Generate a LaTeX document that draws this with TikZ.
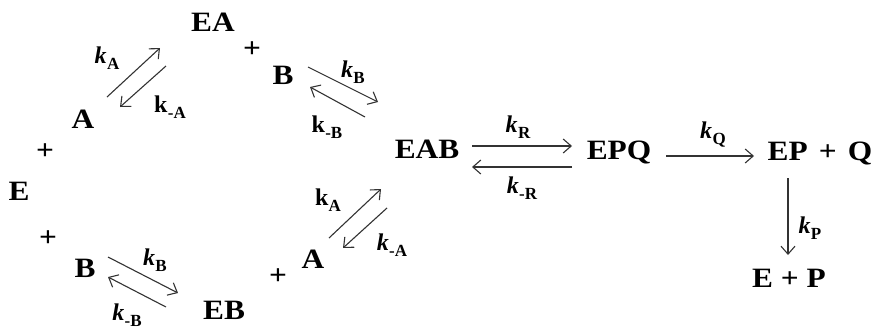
\documentclass[tikz,border=0pt]{standalone}
\usepackage{fontspec}
\setmainfont{Liberation Serif}
\usetikzlibrary{arrows.meta}
\newcommand\ki[1]{\textbf{\textit{k}}\kern0.3pt\raisebox{-0.25em}{\fontsize{17}{17}\selectfont\bfseries #1}}
\newcommand\ku[1]{\textbf{k}\kern0.3pt\raisebox{-0.25em}{\fontsize{17}{17}\selectfont\bfseries #1}}
\newcommand\wide[1]{\scalebox{1.12}[1]{#1}}
\begin{document}
\begin{tikzpicture}[x=1pt,y=-1pt,
  sp/.style={font=\fontsize{28}{30}\selectfont\bfseries, inner sep=0pt, anchor=base},
  lb/.style={font=\fontsize{24}{25}\selectfont, inner sep=0pt, anchor=center},
  rx/.style={draw=black!80, line width=1.1pt, -{Straight Barb[length=8pt,width=14pt]}}]
\useasboundingbox (0,0) rectangle (876,327);
% species
\node[sp] (EA) at (213,31) {\wide{EA}};
\node[sp] (p1) at (252,57) {\wide{+}};
\node[sp] (B1) at (283,84) {\wide{B}};
\node[sp] (A1) at (83,128) {\wide{A}};
\node[sp] (p2) at (45,159) {\wide{+}};
\node[sp] (E) at (19,200) {\wide{E}};
\node[sp] (p3) at (48,246) {\wide{+}};
\node[sp] (B2) at (85,277) {\wide{B}};
\node[sp] (EB) at (224,319) {\wide{EB}};
\node[sp] (p4) at (278,284) {\wide{+}};
\node[sp] (A3) at (313,268) {\wide{A}};
\node[sp] (EAB) at (427,158) {\wide{EAB}};
\node[sp] (EPQ) at (619,159) {\wide{EPQ}};
\node[sp] (EPQ2) at (820,160) {\wide{EP\kern3pt{} + \kern3pt{}Q}};
\node[sp] (EP) at (789,287) {\wide{E + P}};
% labels
\node[lb] (kA1) at (107,58) {\ki{A}};
\node[lb] (kmA1) at (170,107) {\ku{-A}};
\node[lb] (kB1) at (353,72) {\ki{B}};
\node[lb] (kmB1) at (327,127) {\ku{-B}};
\node[lb] (kB2) at (155,260) {\ki{B}};
\node[lb] (kmB2) at (127,315) {\ki{-B}};
\node[lb] (kA3) at (328,200) {\ku{A}};
\node[lb] (kmA3) at (392,245) {\ki{-A}};
\node[lb] (kR) at (518,127) {\ki{R}};
\node[lb] (kmR) at (522,188) {\ki{-R}};
\node[lb] (kQ) at (713,135) {\ki{Q}};
\node[lb] (kP) at (810,228) {\ki{P}};
% arrow end points
\coordinate (a1s) at (107,97);  \coordinate (a1e) at (160,48);
\coordinate (a2s) at (166,66);  \coordinate (a2e) at (120,107);
\coordinate (b1s) at (308,67);  \coordinate (b1e) at (378,102);
\coordinate (b2s) at (365,117); \coordinate (b2e) at (310,87);
\coordinate (c1s) at (108,257); \coordinate (c1e) at (178,293);
\coordinate (c2s) at (166,307); \coordinate (c2e) at (108,277);
\coordinate (d1s) at (329,238); \coordinate (d1e) at (381,189);
\coordinate (d2s) at (387,208); \coordinate (d2e) at (343,248);
\coordinate (r1s) at (472,146); \coordinate (r1e) at (572,146);
\coordinate (r2s) at (572,167); \coordinate (r2e) at (472,167);
\coordinate (qs) at (666,156);  \coordinate (qe) at (754,156);
\coordinate (ps) at (788,178);  \coordinate (pe) at (788,255);
\draw[rx] (a1s) -- (a1e);
\draw[rx] (a2s) -- (a2e);
\draw[rx] (b1s) -- (b1e);
\draw[rx] (b2s) -- (b2e);
\draw[rx] (c1s) -- (c1e);
\draw[rx] (c2s) -- (c2e);
\draw[rx] (d1s) -- (d1e);
\draw[rx] (d2s) -- (d2e);
\draw[rx] (r1s) -- (r1e);
\draw[rx] (r2s) -- (r2e);
\draw[rx] (qs) -- (qe);
\draw[rx] (ps) -- (pe);
\end{tikzpicture}
\end{document}
